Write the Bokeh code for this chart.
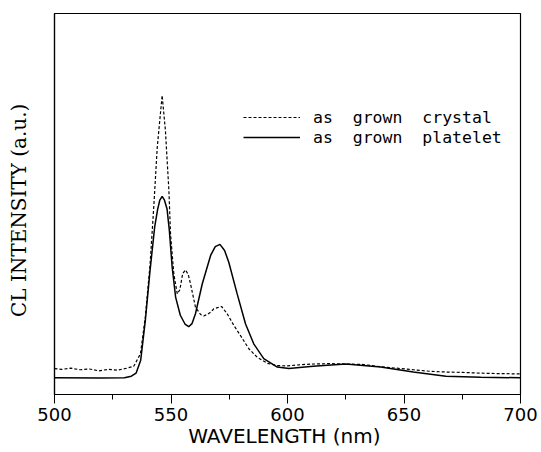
from bokeh.plotting import figure
from bokeh.models import Range1d, FixedTicker, Legend, LegendItem
from bokeh.embed import file_html
from bokeh.resources import INLINE

# Platelet (solid)
wl_platelet = [500, 520, 530, 533, 535, 537, 539, 541, 543, 544.3, 545.2, 546.2, 547.2,
               548.3, 549.3, 550.5, 552, 554, 556, 557.6, 559, 560.5, 563.4, 567, 569,
               571, 573, 574.8, 578.4, 582, 585.5, 589.8, 595.6, 600.6, 611, 625, 640,
               654, 668, 683, 700]
i_platelet = [4.4, 4.3, 4.4, 4.8, 5.6, 9.0, 19.5, 32.5, 44.0, 48.7, 51.0, 52.0, 51.0,
              48.7, 43.0, 33.4, 25.5, 20.8, 18.5, 17.8, 18.6, 21.2, 29.0, 36.5, 38.8,
              39.4, 37.8, 34.7, 26.4, 18.5, 13.3, 9.4, 7.2, 6.8, 7.4, 8.0, 7.2,
              5.9, 4.8, 4.5, 4.4]

# Crystal (dashed)
wl_crystal = [500, 503, 507, 511, 515, 519, 523, 527, 531, 534, 536.9, 539, 541, 542.6,
              544.1, 546.2, 547.6, 549.1, 549.8, 551.2, 552.7, 553.8, 555, 556.2, 557.4,
              558.4, 560.5, 562.7, 564, 565.5, 567, 568.4, 570, 571.7, 574.1, 577,
              579.8, 583.4, 587, 591.3, 595.6, 600, 605, 611, 618, 625, 632, 640, 647,
              654, 661, 668, 675, 683, 690, 700]
i_crystal = [6.8, 6.6, 6.9, 6.5, 6.7, 6.2, 6.6, 6.4, 6.9, 7.4, 10.7, 20.5, 34.0, 49.2,
             64.9, 78.5, 69.3, 53.5, 42.2, 31.7, 26.4, 27.5, 31.7, 32.7, 31.5,
             29.0, 22.9, 21.0, 20.6, 21.0, 21.6, 22.5, 22.8, 23.1, 21.2, 18.1,
             15.5, 12.0, 9.8, 8.2, 7.6, 7.5, 7.8, 8.0, 8.1, 8.0, 7.9, 7.3, 6.9,
             6.5, 6.1, 5.9, 5.8, 5.6, 5.5, 5.4]

x_ticks = [500, 550, 600, 650, 700]
x_minor_ticks = [525, 575, 625, 675]
label_crystal = "as  grown  crystal"
label_platelet = "as  grown  platelet"
x_title = "WAVELENGTH  (nm)"
y_title = "CL  INTENSITY  (a.u.)"

p = figure(width=541, height=452, output_backend="svg", toolbar_location=None,
           x_range=Range1d(500, 700), y_range=Range1d(0, 100),
           min_border_left=54, min_border_right=21, min_border_top=13,
           min_border_bottom=58)
p.background_fill_color = "white"
p.border_fill_color = "white"
p.grid.visible = False
p.outline_line_color = "black"
p.outline_line_width = 1.2

xa = p.xaxis[0]
xa.ticker = FixedTicker(ticks=x_ticks, minor_ticks=x_minor_ticks)
xa.axis_line_color = "black"
xa.axis_line_width = 1.2
xa.major_tick_in = 0
xa.major_tick_out = 9
xa.minor_tick_in = 0
xa.minor_tick_out = 5
xa.major_tick_line_color = "black"
xa.minor_tick_line_color = "black"
xa.major_label_text_font = "DejaVu Sans"
xa.major_label_text_font_size = "18px"
xa.major_label_text_color = "black"
xa.major_label_standoff = 4
xa.axis_label = x_title
xa.axis_label_text_font = "DejaVu Sans"
xa.axis_label_text_font_size = "20px"
xa.axis_label_text_font_style = "normal"
xa.axis_label_text_color = "black"
xa.axis_label_standoff = 0

ya = p.yaxis[0]
ya.ticker = FixedTicker(ticks=[])
ya.axis_line_color = "black"
ya.axis_line_width = 1.2
ya.major_tick_line_color = None
ya.minor_tick_line_color = None
ya.major_label_text_font_size = "0px"
ya.axis_label = y_title
ya.axis_label_text_font = "DejaVu Serif"
ya.axis_label_text_font_size = "20px"
ya.axis_label_text_font_style = "normal"
ya.axis_label_text_color = "black"
ya.axis_label_standoff = 24

r_c = p.line(wl_crystal, i_crystal, line_color="black", line_width=1.2, line_dash="3 2")
r_p = p.line(wl_platelet, i_platelet, line_color="black", line_width=1.5)

legend = Legend(items=[LegendItem(label=label_crystal, renderers=[r_c]),
                       LegendItem(label=label_platelet, renderers=[r_p])],
                location=(189, 247), padding=0, margin=0, spacing=0,
                glyph_width=57, glyph_height=20, label_standoff=13,
                label_text_font="DejaVu Sans Mono", label_text_font_size="16.5px",
                label_text_color="black", label_height=20,
                border_line_color=None, background_fill_alpha=0)
p.add_layout(legend)

open("out.html", "w").write(file_html(p, INLINE))
